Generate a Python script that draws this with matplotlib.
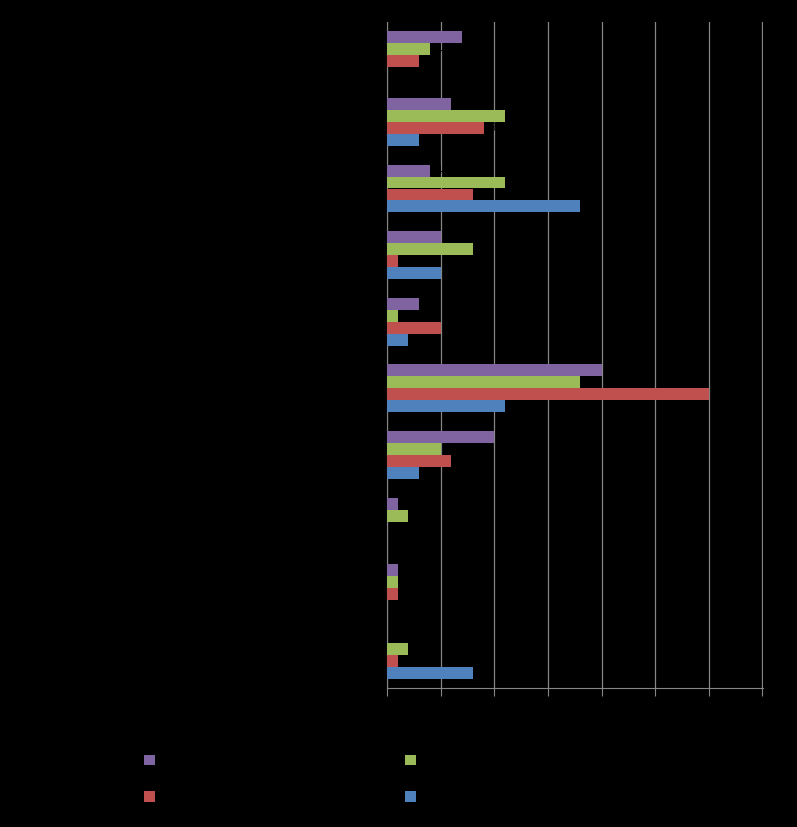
import matplotlib
matplotlib.use("Agg")
import matplotlib.pyplot as plt
import numpy as np

categories = ["Category 1", "Category 2", "Category 3", "Category 4", "Category 5",
              "Category 6", "Category 7", "Category 8", "Category 9", "Category 10"]
series_names = ["Series 1", "Series 2", "Series 3", "Series 4"]
series1 = [0, 3, 18, 5, 2, 11, 3, 0, 0, 8]      # blue
series2 = [3, 9, 8, 1, 5, 30, 6, 0, 1, 1]       # red
series3 = [4, 11, 11, 8, 1, 18, 5, 2, 1, 2]     # green
series4 = [7, 6, 4, 5, 3, 20, 10, 1, 1, 0]      # purple
x_ticks = [0, 5, 10, 15, 20, 25, 30, 35]

colors = ["#4F81BD", "#C0504D", "#9BBB59", "#8064A2"]
all_series = [series1, series2, series3, series4]

W, H = 797, 827
fig = plt.figure(figsize=(W / 100, H / 100), dpi=100, facecolor="black")
ax = fig.add_axes([387 / W, (H - 688) / H, (763 - 387) / W, (688 - 22) / H])
ax.set_facecolor("black")

y = np.arange(len(categories))
bh = 0.18
offsets = [1.5 * bh, 0.5 * bh, -0.5 * bh, -1.5 * bh]
handles = []
for vals, c, off, name in zip(all_series, colors, offsets, series_names):
    b = ax.barh(y + off, vals, height=bh, color=c, label=name, zorder=3)
    handles.append(b)
    for yi, v in zip(y + off, vals):
        if v > 0:
            ax.text(v + 0.4, yi, str(v), color="black", va="center", ha="left", fontsize=9, zorder=4)

ax.set_ylim(len(categories) - 0.5, -0.5)
ax.set_xlim(0, 35.05)
ax.set_xticks(x_ticks)
ax.set_xticklabels([str(t) for t in x_ticks], color="black", fontsize=10)
ax.set_yticks(y)
ax.set_yticklabels(categories, color="black", fontsize=10)
ax.tick_params(axis="y", length=0)
ax.tick_params(axis="x", length=6, color="#868686", direction="out")
ax.grid(axis="x", color="#868686", linewidth=0.9, zorder=0)
for s in ["top", "right"]:
    ax.spines[s].set_visible(False)
ax.spines["left"].set_color("#868686")
ax.spines["bottom"].set_color("#868686")

# row-major: purple, green / red, blue  (matplotlib fills column-first)
order = [3, 1, 2, 0]
leg = fig.legend([handles[i] for i in order], [series_names[i] for i in order],
                 ncol=2, loc="center left", bbox_to_anchor=(131 / W, 1 - 779 / H),
                 frameon=False, handlelength=0.8, handleheight=0.8,
                 columnspacing=13.2, labelspacing=1.6, fontsize=10)
for t in leg.get_texts():
    t.set_color("black")

fig.savefig("out.png", dpi=100, facecolor="black")
